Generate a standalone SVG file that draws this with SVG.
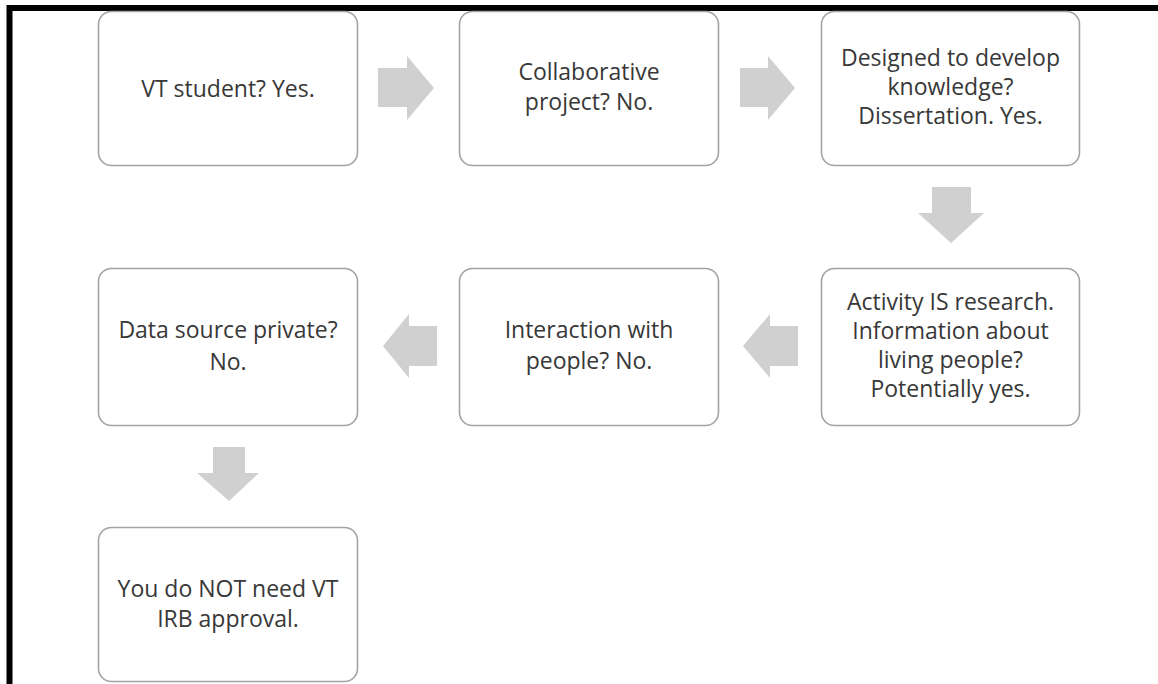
<svg xmlns="http://www.w3.org/2000/svg" width="1158" height="684" viewBox="0 0 1158 684">
  <style>
    .box { fill: #ffffff; stroke: #a3a3a3; stroke-width: 1.6; }
    .arrow { fill: #d0d0d0; stroke: none; }
    .label { font-family: "Open Sans", "Noto Sans", "DejaVu Sans", sans-serif; font-size: 23px; fill: #383838; text-anchor: middle; }
  </style>
  <rect x="0" y="0" width="1158" height="684" fill="#ffffff"/>
  <!-- frame lines along the top and left edge -->
  <path d="M9.5 684 V8 H1158" fill="none" stroke="#000000" stroke-width="6"/>

  <g id="connectors">
    <polygon class="arrow" points="378,68 407,68 407,56 434,88 407,120 407,107 378,107"/>
    <polygon class="arrow" points="740,68 768,68 768,56 795,88 768,120 768,107 740,107"/>
    <polygon class="arrow" points="932,187 971,187 971,213 984,213 951,243 918,213 932,213"/>
    <polygon class="arrow" points="798,326 770,326 770,314 743,346 770,378 770,366 798,366"/>
    <polygon class="arrow" points="437,326 409,326 409,314 383,346 409,378 409,366 437,366"/>
    <polygon class="arrow" points="213,447 245,447 245,473 259,473 229,501 197,473 213,473"/>
  </g>

  <g id="n1">
    <rect class="box" x="98.5" y="11.5" width="259" height="154" rx="13"/>
    <text class="label" x="228" y="97">VT student? Yes.</text>
  </g>
  <g id="n2">
    <rect class="box" x="459.5" y="11.5" width="259" height="154" rx="13"/>
    <text class="label" x="589" y="80">Collaborative</text>
    <text class="label" x="589" y="110">project? No.</text>
  </g>
  <g id="n3">
    <rect class="box" x="821.5" y="11.5" width="258" height="154" rx="13"/>
    <text class="label" x="950.5" y="66">Designed to develop</text>
    <text class="label" x="950.5" y="95">knowledge?</text>
    <text class="label" x="950.5" y="124">Dissertation. Yes.</text>
  </g>
  <g id="n4">
    <rect class="box" x="821.5" y="268.5" width="258" height="157" rx="13"/>
    <text class="label" x="950.5" y="310">Activity IS research.</text>
    <text class="label" x="950.5" y="339">Information about</text>
    <text class="label" x="950.5" y="368">living people?</text>
    <text class="label" x="950.5" y="397">Potentially yes.</text>
  </g>
  <g id="n5">
    <rect class="box" x="459.5" y="268.5" width="259" height="157" rx="13"/>
    <text class="label" x="589" y="338">Interaction with</text>
    <text class="label" x="589" y="369">people? No.</text>
  </g>
  <g id="n6">
    <rect class="box" x="98.5" y="268.5" width="259" height="157" rx="13"/>
    <text class="label" x="228" y="338">Data source private?</text>
    <text class="label" x="228" y="370">No.</text>
  </g>
  <g id="n7">
    <rect class="box" x="98.5" y="527.5" width="259" height="154" rx="13"/>
    <text class="label" x="228" y="597">You do NOT need VT</text>
    <text class="label" x="228" y="627">IRB approval.</text>
  </g>
</svg>
